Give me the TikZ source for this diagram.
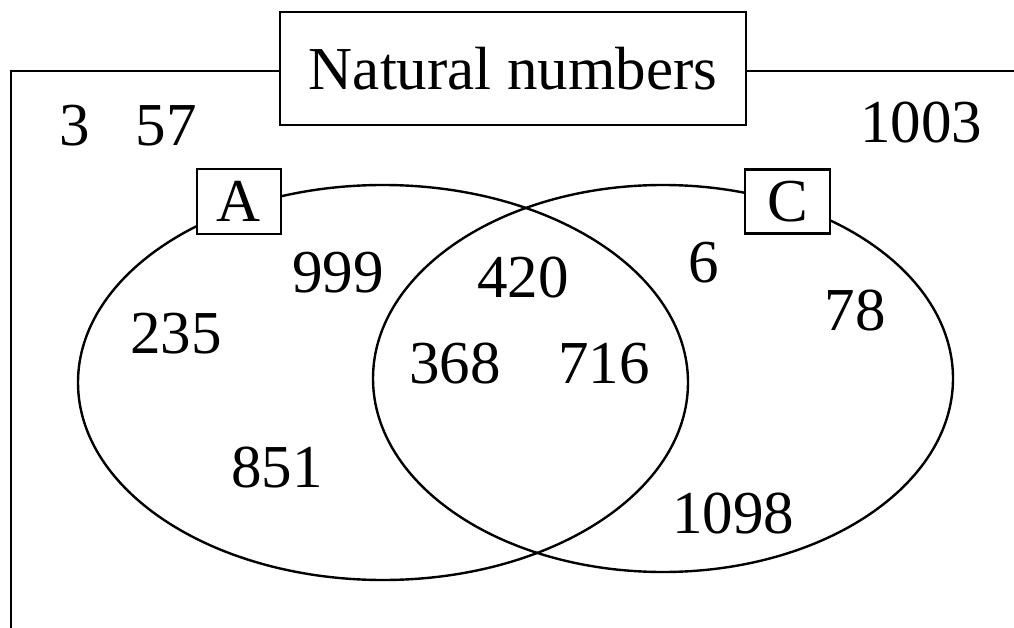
\documentclass[tikz,border=0pt]{standalone}
\usepackage{fontspec}
\setmainfont{Liberation Serif}
\begin{document}
\begin{tikzpicture}[x=1pt,y=-1pt,
  every node/.style={font=\fontsize{61}{70}\selectfont},
  lbl/.style={inner sep=0pt, anchor=center},
  setbox/.style={draw, line width=2.5pt, fill=white, inner sep=0pt},
  frameline/.style={line width=2.8pt},
  setline/.style={line width=2.4pt}]
\useasboundingbox (0,0) rectangle (1014,628);
% ellipses
\draw[setline] (383,382.5) ellipse [x radius=305, y radius=197.5];
\draw[setline] (663,378.5) ellipse [x radius=290, y radius=193.5];
% title and frame
\node[setbox, minimum width=466pt, minimum height=113pt] (title) at (513,68.5) {Natural numbers};
\coordinate (tl) at (11,71);
\coordinate (bl) at (11,628);
\coordinate (tr) at (1014,71);
\draw[frameline] (title.west |- tl) -- (tl) -- (bl);
\draw[frameline] (title.east |- tr) -- (tr);
% set labels
\node[setbox, minimum width=84pt, minimum height=65pt] (A) at (239,201.5) {A};
\node[setbox, minimum width=85pt, minimum height=64pt] (C) at (787.5,201.5) {C};
% numbers
\node[lbl] (n3) at (75,125.5) {3};
\node[lbl] (n57) at (166,125.5) {57};
\node[lbl] (n1003) at (921,122.5) {1003};
\node[lbl] (n999) at (338,273) {999};
\node[lbl] (n235) at (176,333.5) {235};
\node[lbl] (n851) at (277,468) {851};
\node[lbl] (n420) at (523,277.5) {420};
\node[lbl] (n368) at (455,364) {368};
\node[lbl] (n716) at (604,364) {716};
\node[lbl] (n6) at (703.5,262.5) {6};
\node[lbl] (n78) at (855,310.5) {78};
\node[lbl] (n1098) at (733,514) {1098};
\end{tikzpicture}
\end{document}
